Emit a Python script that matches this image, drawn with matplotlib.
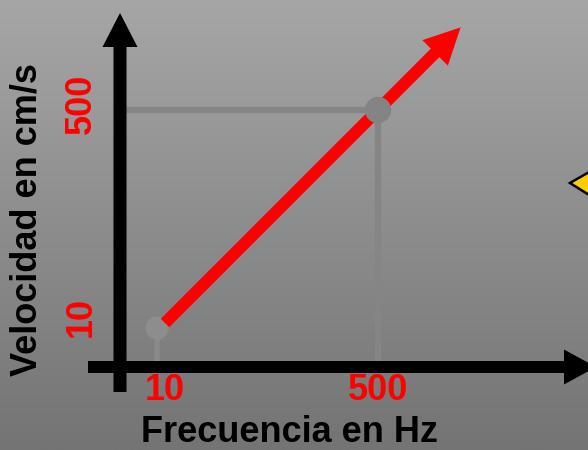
import matplotlib
matplotlib.use("Agg")
import matplotlib.pyplot as plt
import numpy as np
from matplotlib.colors import LinearSegmentedColormap
from matplotlib.patches import FancyArrow, Circle, Polygon

# Datos del esquema
frecuencia_ticks = [10, 500]
velocidad_ticks = [10, 500]
punto_frecuencia = 500
punto_velocidad = 500
inicio_recta = (10, 10)
fin_recta = (690, 690)

etiqueta_x = "Frecuencia en Hz"
etiqueta_y = "Velocidad en cm/s"

# escala: unidades de dato por pixel (figura de 588x450)
s = 490 / 213.0
x0_px, y0_px = 165, 323

def dx(px):
    return 10 + (px - x0_px) * s

def dy(py):
    return 10 + (y0_px - py) * s

fig = plt.figure(figsize=(5.88, 4.5), dpi=100)
ax = fig.add_axes([0, 0, 1, 1])
xlim = (dx(0), dx(588))
ylim = (dy(450), dy(0))
ax.set_xlim(*xlim)
ax.set_ylim(*ylim)
ax.axis("off")

# Fondo gris degradado
grad = np.linspace(0, 1, 256).reshape(-1, 1)
cmap = LinearSegmentedColormap.from_list("fondo", ["#a6a6a6", "#747474"])
ax.imshow(grad, extent=[xlim[0], xlim[1], ylim[0], ylim[1]], aspect="auto",
          cmap=cmap, origin="upper", zorder=0)

fuente = "Liberation Sans"
eje_x = dx(120)
eje_y = dy(367)

# Fantasma del punto inicial (muy tenue)
ax.plot([inicio_recta[0] - 8 * s, inicio_recta[0] - 8 * s],
        [inicio_recta[1] - 5 * s, eje_y], color="#8a8a8a", lw=4, zorder=1)
ax.add_patch(Circle((inicio_recta[0] - 8 * s, inicio_recta[1] - 5 * s), 11 * s,
                    color="#8d8d8d", zorder=1))

# Lineas guia grises
ax.plot([eje_x, punto_frecuencia], [punto_velocidad, punto_velocidad],
        color="#858585", lw=4.5, zorder=2, solid_capstyle="butt")
ax.plot([punto_frecuencia, punto_frecuencia], [punto_velocidad, eje_y],
        color="#858585", lw=4.5, zorder=2, solid_capstyle="butt")

# Flecha roja
ax.add_patch(FancyArrow(inicio_recta[0], inicio_recta[1],
                        fin_recta[0] - inicio_recta[0], fin_recta[1] - inicio_recta[1],
                        width=12 * s, head_width=36 * s, head_length=36 * s,
                        length_includes_head=True, color="red", lw=0, zorder=3))

ax.add_patch(Circle((punto_frecuencia, punto_velocidad), 12.5 * s,
                    color="#848484", zorder=4))

# Ejes negros con flechas
ax.add_patch(FancyArrow(eje_x, dy(392), 0, dy(13) - dy(392),
                        width=13 * s, head_width=35 * s, head_length=34 * s,
                        length_includes_head=True, color="black", lw=0, zorder=5))
ax.add_patch(FancyArrow(dx(88), eje_y, dx(596) - dx(88), 0,
                        width=12 * s, head_width=35 * s, head_length=32 * s,
                        length_includes_head=True, color="black", lw=0, zorder=5))

# Triangulo amarillo (recortado en el borde)
ax.add_patch(Polygon([[dx(570), dy(183)], [dx(610), dy(160)], [dx(610), dy(208)]],
                     closed=True, facecolor="#ffcc00", edgecolor="black", lw=1.8,
                     zorder=5, clip_on=True))

# Etiquetas de ticks en rojo
for f in frecuencia_ticks:
    ax.text(f, dy(390), str(f), color="red", fontsize=26, fontweight="bold",
            family=fuente, ha="center", va="center", zorder=6)
for v in velocidad_ticks:
    ax.text(dx(81), v + 6 * s, str(v), color="red", fontsize=26, fontweight="bold",
            family=fuente, ha="center", va="center", rotation=90, zorder=6)

# Titulos de ejes
ax.text(dx(289), dy(442), etiqueta_x, color="black", fontsize=26,
        fontweight="bold", family=fuente, ha="center", va="baseline", zorder=6)
ax.text(dx(27), dy(220), etiqueta_y, color="black", fontsize=26,
        fontweight="bold", family=fuente, ha="center", va="center",
        rotation=90, zorder=6)

fig.savefig("out.png", dpi=100)
